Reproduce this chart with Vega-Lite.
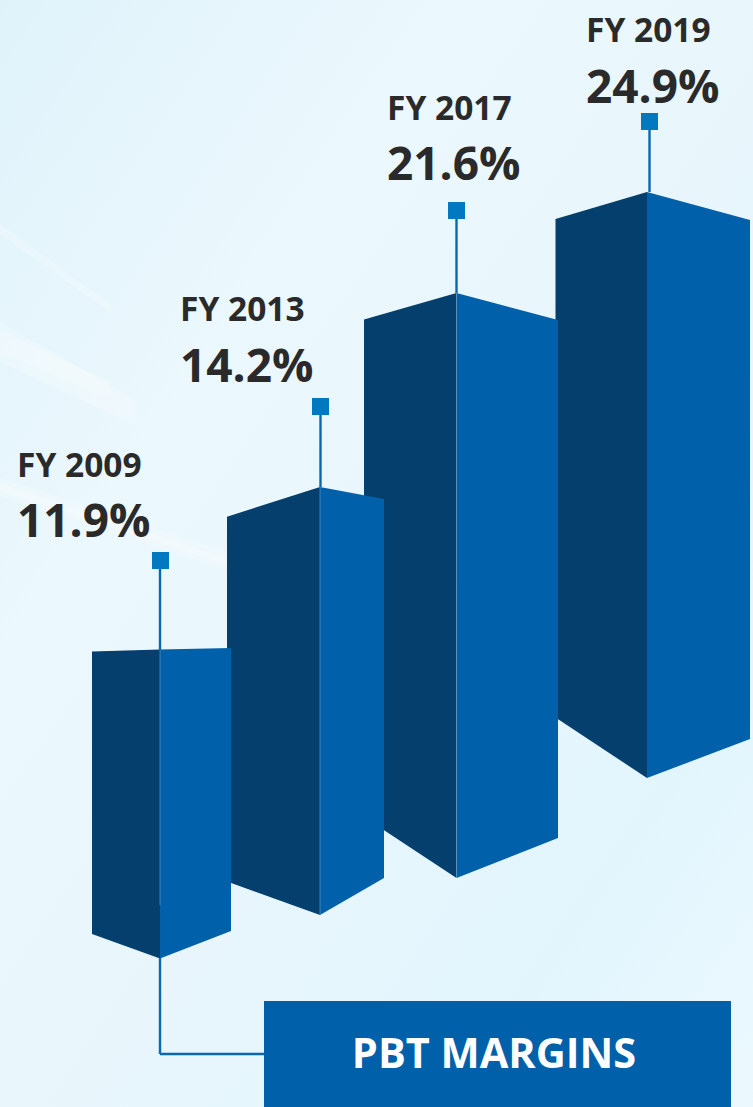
{"$schema":"https://vega.github.io/schema/vega-lite/v6.json","width":753,"height":1107,"autosize":{"type":"fit","contains":"padding"},"padding":0,"background":"#e8f7fd","view":{"stroke":null},
"config":{"axis":{"domain":false}},
"datasets":{
"bg":[{"x":0,"x2":753,"y":0,"y2":1107}],
"streaks":[
{"id":"a","x":0,"top":478,"bottom":496},{"id":"a","x":226,"top":552,"bottom":570},
{"id":"a2","x":0,"top":483,"bottom":491},{"id":"a2","x":226,"top":558,"bottom":565},
{"id":"b","x":0,"top":322,"bottom":362},{"id":"b","x":135,"top":400,"bottom":425},
{"id":"b2","x":0,"top":331,"bottom":352},{"id":"b2","x":110,"top":382,"bottom":400},
{"id":"c","x":0,"top":224,"bottom":234},{"id":"c","x":110,"top":304,"bottom":312}
],
"faces":[
{"id":"2019L","face":"left","x":555.5,"top":219,"bottom":717.5},{"id":"2019L","face":"left","x":647,"top":192,"bottom":778},
{"id":"2019R","face":"right","x":647,"top":192,"bottom":778},{"id":"2019R","face":"right","x":750,"top":220,"bottom":739},
{"id":"2017L","face":"left","x":364,"top":319.5,"bottom":817},{"id":"2017L","face":"left","x":456.5,"top":293,"bottom":878},
{"id":"2017R","face":"right","x":456.5,"top":293,"bottom":878},{"id":"2017R","face":"right","x":558,"top":320,"bottom":838},
{"id":"2013L","face":"left","x":227,"top":516.7,"bottom":881.5},{"id":"2013L","face":"left","x":320,"top":487,"bottom":915},
{"id":"2013R","face":"right","x":320,"top":487,"bottom":915},{"id":"2013R","face":"right","x":384,"top":499,"bottom":878},
{"id":"2009L","face":"left","x":92,"top":651.5,"bottom":934},{"id":"2009L","face":"left","x":160,"top":649.5,"bottom":958.5},
{"id":"2009R","face":"right","x":160,"top":649.5,"bottom":958.5},{"id":"2009R","face":"right","x":231,"top":648,"bottom":931}
],
"seams":[
{"x":320,"y":487,"y2":915},{"x":456.5,"y":293,"y2":878},{"x":160,"y":650,"y2":905}
],
"stems":[
{"x":160,"x2":160,"y":569,"y2":650},{"x":320.5,"x2":320.5,"y":415,"y2":487},{"x":456.5,"x2":456.5,"y":219,"y2":293},{"x":649.5,"x2":649.5,"y":130,"y2":192},
{"x":160,"x2":160,"y":958,"y2":1054},{"x":160,"x2":264,"y":1054,"y2":1054}
],
"squares":[
{"x":152,"x2":169,"y":552,"y2":569},{"x":312,"x2":329,"y":398,"y2":415},{"x":448,"x2":465,"y":202,"y2":219},{"x":641,"x2":658,"y":113,"y2":130}
],
"box":[{"x":264,"x2":731,"y":1001,"y2":1107}],
"labels":[
{"fy":"FY 2009","pct":"11.9%","x":17,"yFy":477,"yPct":537},
{"fy":"FY 2013","pct":"14.2%","x":180,"yFy":321,"yPct":382},
{"fy":"FY 2017","pct":"21.6%","x":387,"yFy":120,"yPct":180},
{"fy":"FY 2019","pct":"24.9%","x":586,"yFy":42,"yPct":103}
],
"title":[{"t":"PBT MARGINS","x":494,"y":1068}]
},
"encoding":{
"x":{"field":"x","type":"quantitative","scale":{"domain":[0,753],"nice":false,"zero":false},"axis":null},
"y":{"field":"y","type":"quantitative","scale":{"domain":[1107,0],"nice":false,"zero":false},"axis":null}
},
"layer":[
{"data":{"name":"bg"},"mark":{"type":"rect","fill":{"gradient":"linear","x1":0,"y1":0,"x2":1,"y2":1,"stops":[{"offset":0,"color":"#dff2fa"},{"offset":0.3,"color":"#ebf8fd"},{"offset":0.55,"color":"#e8f6fc"},{"offset":0.8,"color":"#e2f5fd"},{"offset":1,"color":"#ebf9fe"}]}},"encoding":{"x2":{"field":"x2"},"y2":{"field":"y2"}}},
{"data":{"name":"streaks"},"mark":{"type":"area","fill":"#ffffff","opacity":0.22},"encoding":{"y":{"field":"top","type":"quantitative"},"y2":{"field":"bottom"},"detail":{"field":"id"}}},
{"data":{"name":"faces"},"mark":{"type":"area","opacity":1},"encoding":{"y":{"field":"top","type":"quantitative"},"y2":{"field":"bottom"},"detail":{"field":"id"},"color":{"field":"face","type":"nominal","legend":null,"scale":{"domain":["left","right"],"range":["#053f6e","#0060aa"]}}}},
{"data":{"name":"seams"},"mark":{"type":"rule","stroke":"#6f9cc4","strokeWidth":1,"opacity":0.6},"encoding":{"y2":{"field":"y2"}}},
{"data":{"name":"stems"},"mark":{"type":"rule","stroke":"#0a68b0","strokeWidth":2.4},"encoding":{"x2":{"field":"x2"},"y2":{"field":"y2"}}},
{"data":{"name":"squares"},"mark":{"type":"rect","fill":"#0079c1"},"encoding":{"x2":{"field":"x2"},"y2":{"field":"y2"}}},
{"data":{"name":"box"},"mark":{"type":"rect","fill":"#0060aa"},"encoding":{"x2":{"field":"x2"},"y2":{"field":"y2"}}},
{"data":{"name":"labels"},"mark":{"type":"text","align":"left","baseline":"alphabetic","font":"Open Sans","fontWeight":"bold","fontSize":33.5,"fill":"#2b2a2b"},"encoding":{"y":{"field":"yFy","type":"quantitative"},"text":{"field":"fy"}}},
{"data":{"name":"labels"},"mark":{"type":"text","align":"left","baseline":"alphabetic","font":"Open Sans","fontWeight":"bold","fontSize":46,"fill":"#2b2a2b"},"encoding":{"y":{"field":"yPct","type":"quantitative"},"text":{"field":"pct"}}},
{"data":{"name":"title"},"mark":{"type":"text","align":"center","baseline":"alphabetic","font":"Open Sans","fontWeight":"bold","fontSize":41.5,"fill":"#ffffff"},"encoding":{"text":{"field":"t"}}}
]}
